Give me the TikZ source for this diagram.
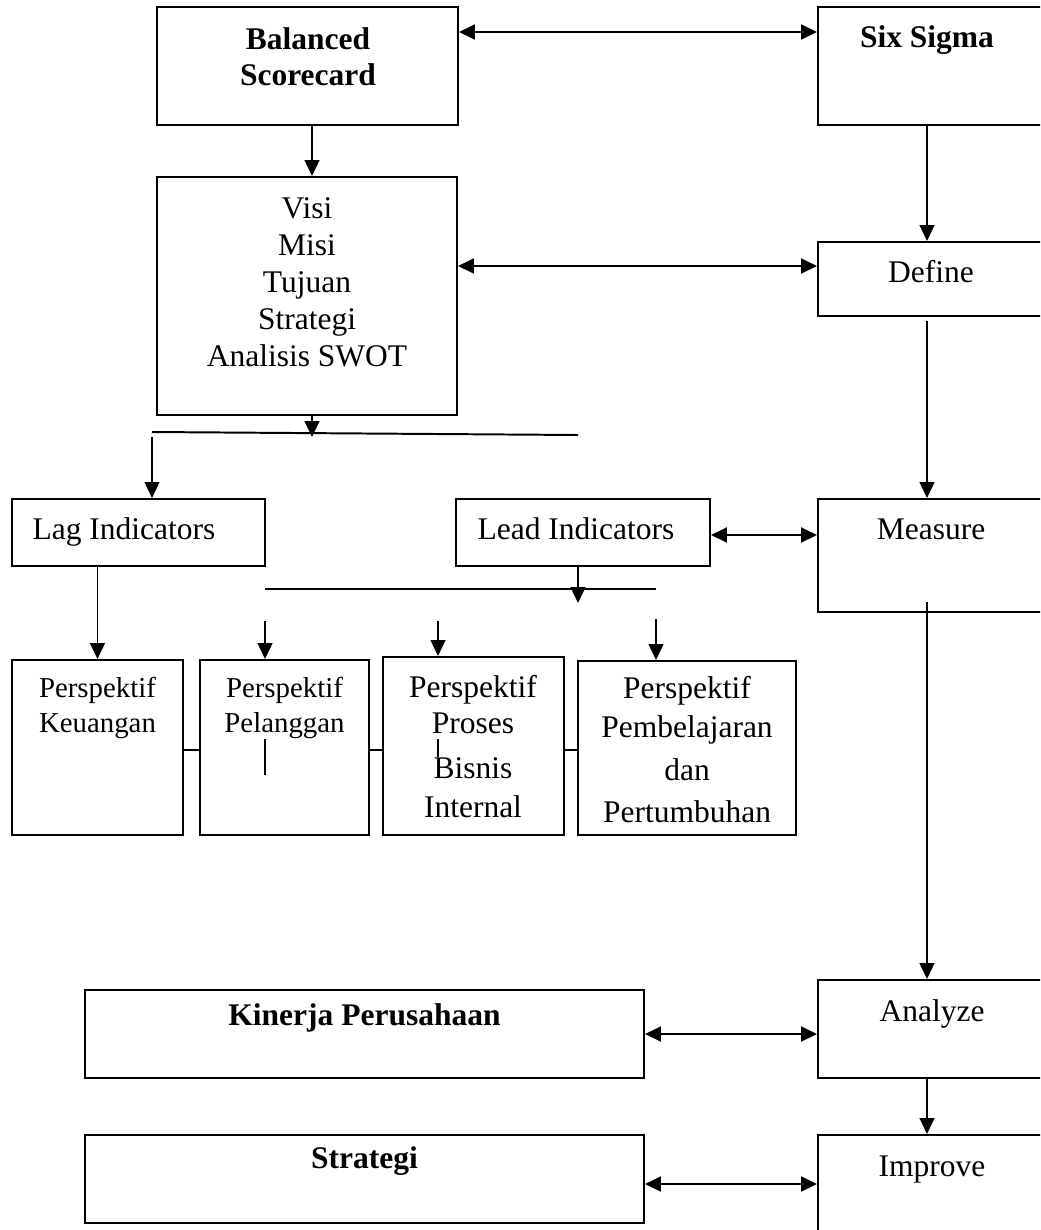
\documentclass[tikz,border=0pt]{standalone}
\usepackage{fontspec}
\setmainfont{Liberation Serif}
\usetikzlibrary{arrows.meta}

\tikzset{
  box/.style={draw, line width=1.4pt, inner sep=0pt},
  wh/.style 2 args={minimum width=#1*0.025cm, minimum height=#2*0.025cm},
  txt/.style={inner sep=0pt, align=center, anchor=base, font=\fontsize{22.4}{26.3}\selectfont},
  btxt/.style={txt, font=\fontsize{22.4}{25}\selectfont\bfseries},
  stxt/.style={txt, font=\fontsize{20.5}{24.2}\selectfont},
  ptxt/.style={txt, font=\fontsize{22.4}{25.6}\selectfont},
  harrow/.style={<->, line width=1.9pt},
  varrow/.style={->, line width=1.4pt},
  plain/.style={line width=1.4pt}
}

\begin{document}
\begin{tikzpicture}[x=0.025cm,y=-0.025cm,>={Triangle[length=0.4cm,width=0.37cm]}]
\useasboundingbox (0,0) rectangle (1040,1230);
\clip (0,0) rectangle (1040,1230);

% boxes
\node[box,wh={301}{118}] (bsc) at (307.5,66) {};
\node[box,wh={224}{118}] (six) at (930,66) {};
\node[box,wh={300}{238}] (visi) at (307,296) {};
\node[box,wh={224}{74}] (define) at (930,279) {};
\node[box,wh={253}{67}] (lag) at (138.5,532.5) {};
\node[box,wh={254}{67}] (lead) at (583,532.5) {};
\node[box,wh={224}{113}] (measure) at (930,555.5) {};
\node[box,wh={171}{175}] (p1) at (97.5,747.5) {};
\node[box,wh={169}{175}] (p2) at (284.5,747.5) {};
\node[box,wh={181}{178}] (p3) at (473.5,746) {};
\node[box,wh={218}{174}] (p4) at (687,748) {};
\node[box,wh={559}{88}] (kinerja) at (364.5,1034) {};
\node[box,wh={224}{98}] (analyze) at (930,1029) {};
\node[box,wh={559}{88}] (strategi) at (364.5,1179) {};
\node[box,wh={224}{110}] (improve) at (930,1190) {};

% texts (base = last line)
\node[btxt] (bsct) at (308,85) {Balanced\\Scorecard};
\node[btxt] (sixt) at (927,47) {Six Sigma};
\node[txt] (visit) at (307,366) {Visi\\Misi\\Tujuan\\Strategi\\Analisis SWOT};
\node[txt] (definet) at (931,282) {Define};
\node[txt] (lagt) at (124,539) {Lag Indicators};
\node[txt] (leadt) at (576,539) {Lead Indicators};
\node[txt] (measuret) at (931,539) {Measure};
\node[stxt] (p1t) at (97.5,732) {Perspektif\\Keuangan};
\node[stxt] (p2t) at (284.5,732) {Perspektif\\Pelanggan};
\node[ptxt] (p3t) at (473,817) {Perspektif\\Proses\\[6.4pt]Bisnis\\[2.1pt]Internal};
\node[ptxt,font=\fontsize{22.4}{27.7}\selectfont] (p4t) at (687,822) {Perspektif\\Pembelajaran\\[2.8pt]dan\\[2.1pt]Pertumbuhan};
\node[btxt] (kinerjat) at (364.5,1025) {Kinerja Perusahaan};
\node[txt] (analyzet) at (932,1021) {Analyze};
\node[btxt] (strategit) at (364.5,1168) {Strategi};
\node[txt] (improvet) at (932,1176) {Improve};

% helper points
\coordinate (lc) at (312,0);
\coordinate (rc) at (927,0);
\coordinate (y0) at (0,32);
\coordinate (y1) at (0,266);
\coordinate (y2) at (0,535);
\coordinate (yl) at (0,750);
\coordinate (y3) at (0,1034);
\coordinate (y4) at (0,1184);
\coordinate (h1a) at (152,432);
\coordinate (h1b) at (578,435);
\coordinate (h1t) at (312,437);
\coordinate (lagin) at (152,437);
\coordinate (h2a) at (265,589);
\coordinate (h2b) at (656,589);
\coordinate (h2t) at (578,603);
\coordinate (a2) at (265,621);
\coordinate (a3) at (438,621);
\coordinate (a4) at (656,619);
\coordinate (dm) at (927,321);
\coordinate (ms) at (927,602);

% connectors
\draw[harrow] (bsc.east |- y0) -- (six.west |- y0);
\draw[varrow] (bsc.south -| lc) -- (visi.north -| lc);
\draw[varrow] (six.south -| rc) -- (define.north -| rc);
\draw[harrow] (visi.east |- y1) -- (define.west |- y1);
\draw[varrow] (visi.south -| lc) -- (h1t);
\draw[plain] (h1a) -- (h1b);
\draw[varrow] (lagin) -- (lag.north -| lagin);
\draw[varrow] (dm) -- (measure.north -| dm);
\draw[harrow] (lead.east |- y2) -- (measure.west |- y2);
\draw[varrow] (lead.south -| h2t) -- (h2t);
\draw[plain] (h2a) -- (h2b);
\draw[varrow] (lag.south -| p1.north) -- (p1.north);
\draw[varrow] (a2) -- (p2.north -| a2);
\draw[varrow] (a3) -- (p3.north -| a3);
\draw[varrow] (a4) -- (p4.north -| a4);
\draw[plain] (p1.east |- yl) -- (p2.west |- yl);
\draw[plain] (p2.east |- yl) -- (p3.west |- yl);
\draw[plain] (p3.east |- yl) -- (p4.west |- yl);
\draw[plain] (265,739) -- (265,775);
\draw[plain] (438,739) -- (438,757);
\draw[varrow] (ms) -- (analyze.north -| ms);
\draw[harrow] (kinerja.east |- y3) -- (analyze.west |- y3);
\draw[varrow] (analyze.south -| rc) -- (improve.north -| rc);
\draw[harrow] (strategi.east |- y4) -- (improve.west |- y4);
\end{tikzpicture}
\end{document}
